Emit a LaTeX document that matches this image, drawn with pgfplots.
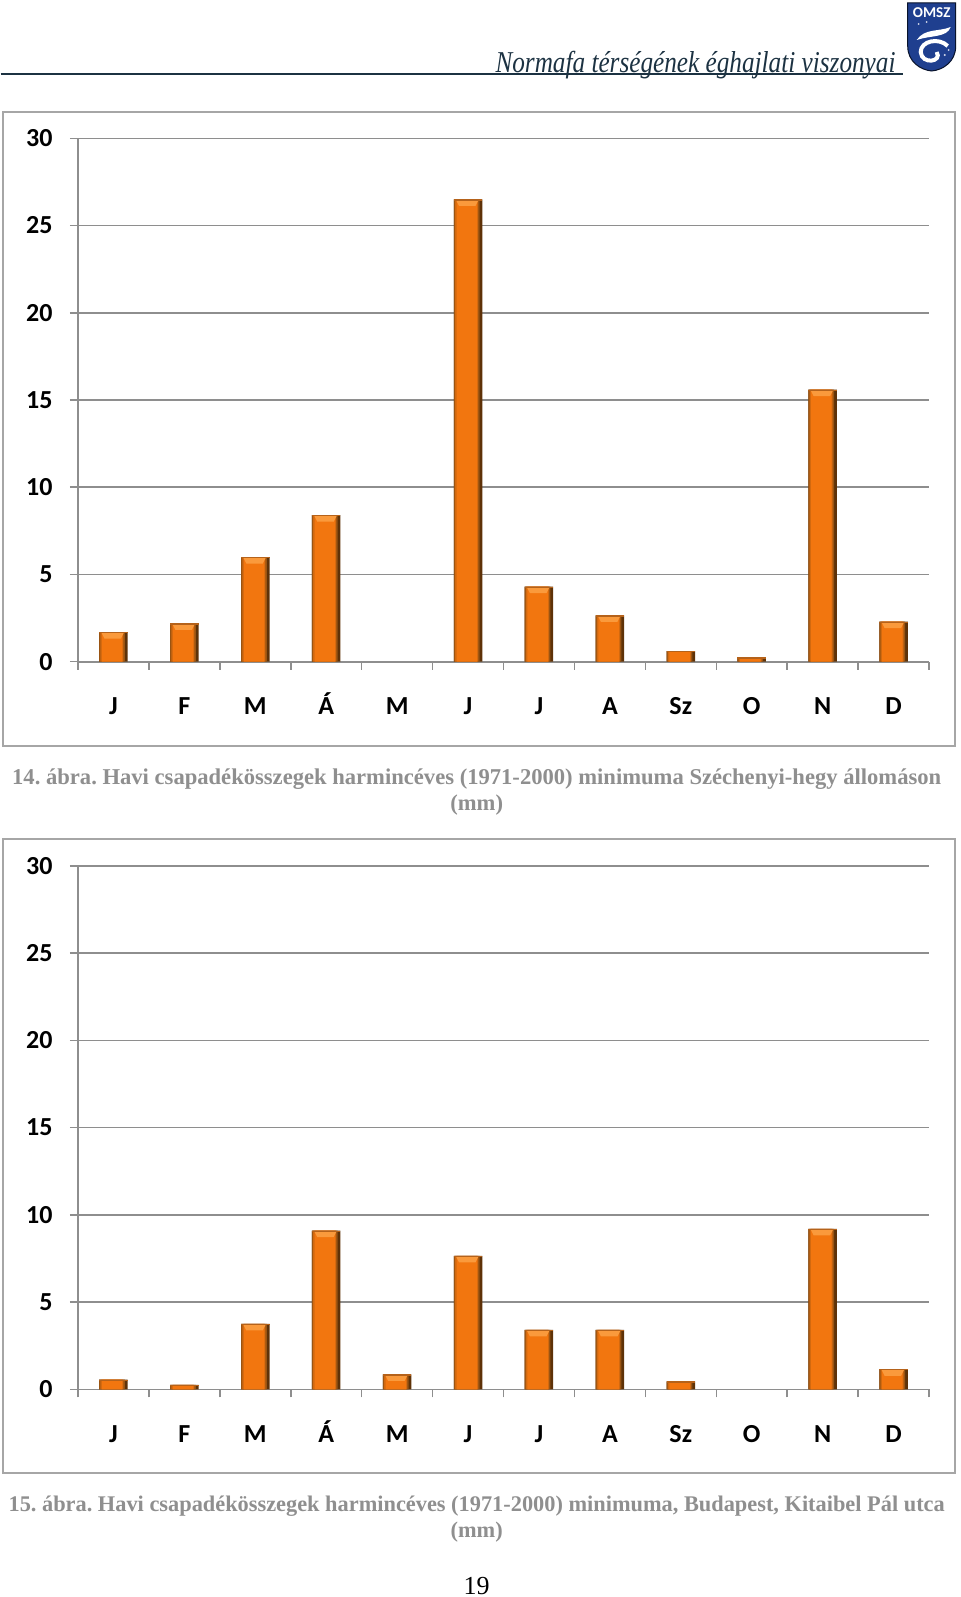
\documentclass[border=0pt]{standalone}
\usepackage{pgfplots}
\usepackage{pgfplotstable}
\usepackage{fontspec}
\usepackage{graphicx}
\pgfplotsset{compat=1.18}
\setmainfont{Carlito}
\frenchspacing
\newfontfamily\capfont{Liberation Serif}
\definecolor{gridc}{HTML}{8E8E8E}
\definecolor{framec}{HTML}{A6A6A6}
\definecolor{capc}{HTML}{8F8F8F}
\definecolor{barc}{HTML}{F2760F}
\definecolor{bard}{HTML}{5E3208}
\definecolor{barm}{HTML}{9A5412}
\definecolor{barn}{HTML}{D2690F}
\definecolor{barl}{HTML}{FA9A3C}
\definecolor{bart}{HTML}{B5621A}
\definecolor{navy}{HTML}{1F3F8F}
\definecolor{hdr}{HTML}{1C3242}
\pgfplotstableread{
x y
0.5 1.7
1.5 2.2
2.5 6.0
3.5 8.4
5.5 26.5
6.5 4.3
7.5 2.65
8.5 0.6
9.5 0.25
10.5 15.6
11.5 2.3
}\dataA
\pgfplotstableread{
x y
0.5 0.55
1.5 0.25
2.5 3.75
3.5 9.1
4.5 0.85
5.5 7.65
6.5 3.4
7.5 3.4
8.5 0.45
10.5 9.2
11.5 1.15
}\dataB
\pgfplotstableread{
x y
0.5 1.7
1.5 2.2
2.5 6.0
3.5 8.4
5.5 26.5
6.5 4.3
7.5 2.65
10.5 15.6
11.5 2.3
}\topA
\pgfplotstableread{
x y
8.5 0.6
9.5 0.25
}\smallA
\pgfplotstableread{
x y
2.5 3.75
3.5 9.1
4.5 0.85
5.5 7.65
6.5 3.4
7.5 3.4
10.5 9.2
11.5 1.15
}\topB
\pgfplotstableread{
x y
0.5 0.55
1.5 0.25
8.5 0.45
}\smallB
\pgfdeclareplotmark{bartop}{%
  \pgfsetfillcolor{barl}%
  \pgfpathmoveto{\pgfqpoint{-12pt}{-0.5pt}}%
  \pgfpathlineto{\pgfqpoint{10.5pt}{-0.5pt}}%
  \pgfpathlineto{\pgfqpoint{7.5pt}{-6.5pt}}%
  \pgfpathlineto{\pgfqpoint{-9pt}{-6.5pt}}%
  \pgfpathclose\pgfusepathqfill
  \pgfsetfillcolor{bart}%
  \pgfpathrectangle{\pgfqpoint{-14.25pt}{-1.2pt}}{\pgfqpoint{28.5pt}{1.2pt}}%
  \pgfusepathqfill}
\pgfdeclareplotmark{bartopsmall}{%
  \pgfsetfillcolor{bart}%
  \pgfpathrectangle{\pgfqpoint{-14.25pt}{-1.2pt}}{\pgfqpoint{28.5pt}{1.2pt}}%
  \pgfusepathqfill}
\pgfplotsset{
  monthax/.style={
    at={(77.3pt,0pt)}, anchor=origin, scale only axis,
    width=851pt, height=523.4pt,
    xmin=0, xmax=12, ymin=0, ymax=30,
    xtick={0.5,1.5,...,11.5},
    xticklabels={J,F,M,Á,M,J,J,A,Sz,O,N,D},
    minor xtick={0,1,...,12},
    ytick={0,5,...,30},
    ymajorgrids, tick align=outside,
    major x tick style={draw=none},
    major tick length=8pt, minor tick length=8pt,
    every tick/.style={gridc,line width=1.5pt},
    grid style={gridc,line width=1.6pt},
    axis x line*=bottom, axis y line*=left,
    axis line style={gridc,line width=1.6pt,-},
    /pgf/number format/assume math mode=true,
    tick label style={font=\bfseries\fontsize{26}{26}\selectfont,black},
    xticklabel style={anchor=base, yshift=-45pt},
    yticklabel style={xshift=-14pt},
    clip=true,
  },
}
\newcommand{\barlayers}[1]{%
  \addplot[ybar,draw=none,fill=bard,bar width=28.5pt,bar shift=0pt] table {#1};
  \addplot[ybar,draw=none,fill=barm,bar width=25.75pt,bar shift=-1.375pt] table {#1};
  \addplot[ybar,draw=none,fill=barn,bar width=23pt,bar shift=-1.5pt] table {#1};
  \addplot[ybar,draw=none,fill=barc,bar width=20.5pt,bar shift=-1.25pt] table {#1};
}
\begin{document}
\begin{tikzpicture}[x=1pt,y=-1pt]
\path[fill=white] (0,0) rectangle (960,1597);
% header
\draw[hdr,line width=1.4pt] (0,74) -- (902,74);
\node[anchor=base east,inner sep=0pt,text=hdr] at (895,72.5)
  {\scalebox{1}[1.2]{\resizebox{400pt}{!}{\capfont\itshape\fontsize{28}{28}\selectfont Normafa térségének éghajlati viszonyai}}};
% logo
\fill[navy,draw=black!70!navy,line width=1pt] (907,3) -- (955,3) -- (955,46) .. controls (955,62) and (942,70) .. (931,71) .. controls (920,70) and (907,62) .. (907,46) -- cycle;
\node[text=white,font=\bfseries\fontsize{15}{15}\selectfont,inner sep=0pt] at (931,13) {OMSZ};
\fill[white] (916,40) .. controls (924,28) and (938,32) .. (950,27) .. controls (946,38) and (930,35) .. (916,40) -- cycle;
\draw[white,line width=4pt] (947,46) .. controls (938,37) and (920,41) .. (920,52) .. controls (921,65) and (942,62) .. (936,52);
\fill[white!80!navy] (918,24) circle (1pt) (926,22) circle (1pt) (944,55) circle (1.2pt) (948,50) circle (1pt);
% frames
\draw[framec,line width=2pt] (2,112) rectangle (954,746);
\draw[framec,line width=2pt] (2,839) rectangle (954,1473);
% captions
\node[anchor=base,text=capc,inner sep=0pt] at (476,784) {\capfont\bfseries\fontsize{22.6}{22.6}\selectfont 14. ábra. Havi csapadékösszegek harmincéves (1971-2000) minimuma Széchenyi-hegy állomáson};
\node[anchor=base,text=capc,inner sep=0pt] at (476,810) {\capfont\bfseries\fontsize{22.6}{22.6}\selectfont (mm)};
\node[anchor=base,text=capc,inner sep=0pt] at (476,1511) {\capfont\bfseries\fontsize{22.35}{22.35}\selectfont 15. ábra. Havi csapadékösszegek harmincéves (1971-2000) minimuma, Budapest, Kitaibel Pál utca};
\node[anchor=base,text=capc,inner sep=0pt] at (476,1537) {\capfont\bfseries\fontsize{22.35}{22.35}\selectfont (mm)};
\node[anchor=base,inner sep=0pt,text=black] at (476,1594) {\capfont\fontsize{26}{26}\selectfont 19};
% chart 1
\begin{scope}[shift={(0,661.7)},y=1pt]
\begin{axis}[monthax]
\barlayers{\dataA}
\addplot[only marks,mark=bartop,color=barl] table {\topA};
\addplot[only marks,mark=bartopsmall,color=barl] table {\smallA};
\end{axis}
\end{scope}
% chart 2
\begin{scope}[shift={(0,1389.3)},y=1pt]
\begin{axis}[monthax]
\barlayers{\dataB}
\addplot[only marks,mark=bartop,color=barl] table {\topB};
\addplot[only marks,mark=bartopsmall,color=barl] table {\smallB};
\end{axis}
\end{scope}
\end{tikzpicture}
\end{document}
